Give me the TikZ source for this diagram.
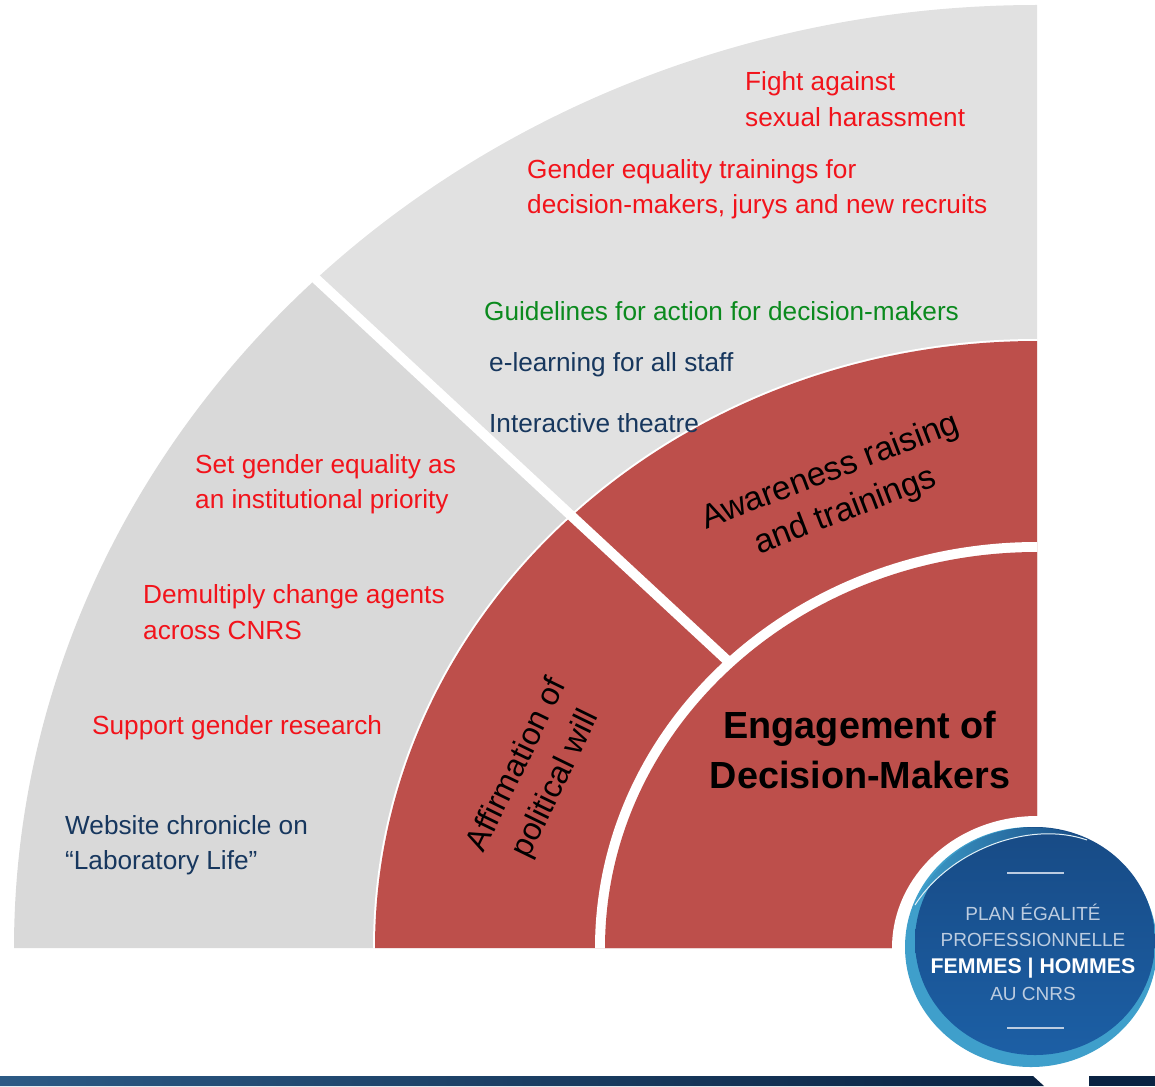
\documentclass[tikz,border=0pt]{standalone}
\usepackage{fontspec}
\setmainfont{Liberation Sans}
\usetikzlibrary{calc}
\definecolor{redring}{HTML}{BD4F4B}
\definecolor{grayleft}{HTML}{D9D9D9}
\definecolor{graytop}{HTML}{E1E1E1}
\definecolor{navytext}{HTML}{17375E}
\definecolor{greentext}{HTML}{0B8A1E}
\definecolor{redtext}{HTML}{F2131B}
\definecolor{badgeblue}{HTML}{1A5394}
\definecolor{badgelow}{HTML}{1C5FA5}
\definecolor{badgelight}{HTML}{3F9FCB}
\definecolor{badgetext}{HTML}{BCCCE0}
\definecolor{bandleft}{HTML}{2C5A85}
\definecolor{bandmid}{HTML}{0D3A5A}
\definecolor{bandright}{HTML}{0A2342}
\tikzset{
  action/.style={anchor=west,align=left,inner sep=0pt,font=\fontsize{26.2}{35.5}\selectfont},
  redaction/.style={action,text=redtext},
  navyaction/.style={action,text=navytext},
  ringtext/.style={align=center,inner sep=0pt,text=black},
  badgeline/.style={align=center,inner sep=0pt,text=badgetext,font=\fontsize{19}{26.7}\selectfont}
}
\begin{document}
\begin{tikzpicture}[x=1pt,y=-1pt]
  \useasboundingbox (0,0) rectangle (1155,1086);
  \clip (0,0) rectangle (1155,1086);
  \coordinate (centre) at (1037,948);
  % grey sectors
  \fill[grayleft] (centre) -- (14,948) arc[start angle=180,end angle=225,x radius=1023,y radius=943] -- cycle;
  \fill[graytop] (centre) -- ($(centre)+(225:1023 and 943)$) arc[start angle=225,end angle=270,x radius=1023,y radius=943] -- cycle;
  % red rings
  \fill[white] (centre) -- (373,948) arc[start angle=180,end angle=270,x radius=664,y radius=609] -- cycle;
  \fill[redring] (centre) -- (375,948) arc[start angle=180,end angle=270,x radius=662,y radius=607] -- cycle;
  % divider
  \coordinate (divout) at (314,277);
  \coordinate (divin) at (730,663);
  \draw[white,line width=10pt] (divout) -- (divin);
  % inner ring
  \fill[white] (centre) -- (595,948) arc[start angle=180,end angle=270,x radius=442,y radius=406] -- cycle;
  \fill[redring] (centre) -- (605,948) arc[start angle=180,end angle=270,x radius=432,y radius=396] -- cycle;
  % texts in the grey part
  \node[redaction] (harassment) at (745,99) {Fight against\\sexual harassment};
  \node[redaction] (trainings) at (527,189) {Gender equality trainings for\\decision-makers, jurys and new recruits};
  \node[action,text=greentext] (guidelines) at (484,311) {Guidelines for action for decision-makers};
  \node[navyaction] (elearning) at (489,365) {e-learning for all staff};
  \node[navyaction] (theatre) at (489,423) {Interactive theatre};
  \node[redaction] (priority) at (195,484) {Set gender equality as\\an institutional priority};
  \node[redaction] (agents) at (143,612) {Demultiply change agents\\across CNRS};
  \node[redaction] (research) at (92,728) {Support gender research};
  \node[navyaction] (chronicle) at (65,845) {Website chronicle on\\“Laboratory Life”};
  % texts in the red part
  \node[ringtext,rotate=21,font=\fontsize{33.5}{42}\selectfont] (awareness) at (838,492) {Awareness raising\\and trainings};
  \node[ringtext,rotate=64,font=\fontsize{32}{43}\selectfont] (affirmation) at (537,775) {Affirmation of\\political will};
  \node[align=center,inner sep=0pt,text=black,font=\fontsize{37.8}{50}\selectfont\bfseries] (engagement) at (860,750) {Engagement of\\Decision-Makers};
  % badge
  \fill[white] (1037,948) ellipse[x radius=145,y radius=132];
  \fill[badgelight] (1031,947) ellipse[x radius=126,y radius=120];
  \shade[top color=badgeblue!90!black,bottom color=badgelow] (1035,941) ellipse[x radius=120,y radius=114];
  \shade[left color=badgelight,right color=badgeblue!90!black] (915,905) .. controls (950,850) and (1030,820) .. (1087,840) .. controls (1040,815) and (940,820) .. (908,925) -- cycle;
  \draw[white!85!badgelight,line width=1pt] (915,905) .. controls (950,850) and (1030,820) .. (1087,840);
  \draw[badgetext,line width=2pt] (1007,873) -- (1064,873);
  \draw[badgetext,line width=2pt] (1007,1028) -- (1064,1028);
  \node[badgeline] (badgetxt) at (1033,952) {PLAN ÉGALITÉ\\PROFESSIONNELLE\\{\fontsize{21.3}{26.7}\selectfont\bfseries\color{white}FEMMES | HOMMES}\\AU CNRS};
  % bottom band
  \shade[left color=bandleft,middle color=bandmid,right color=bandright] (0,1076) -- (1033,1076) -- (1044,1086) -- (0,1086) -- cycle;
  \fill[bandright] (1089,1076) rectangle (1155,1086);
\end{tikzpicture}
\end{document}
